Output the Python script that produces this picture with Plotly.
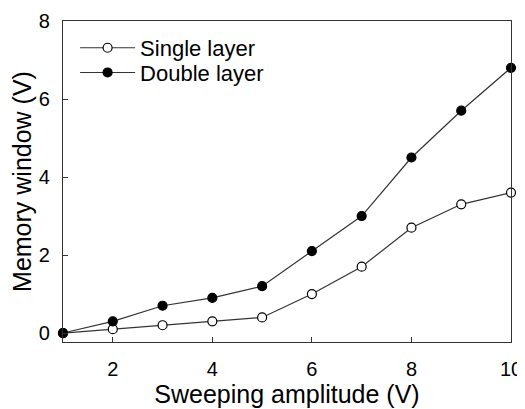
import plotly.graph_objects as go

amplitude = [1, 2, 3, 4, 5, 6, 7, 8, 9, 10]
single_layer = [0, 0.1, 0.2, 0.3, 0.4, 1.0, 1.7, 2.7, 3.3, 3.6]
double_layer = [0, 0.3, 0.7, 0.9, 1.2, 2.1, 3.0, 4.5, 5.7, 6.8]
x_ticks = [2, 4, 6, 8, 10]
y_ticks = [0, 2, 4, 6, 8]

font_family = "Liberation Sans, Arial, sans-serif"

fig = go.Figure()
fig.add_trace(go.Scatter(
    x=amplitude, y=single_layer, name="Single layer", mode="lines+markers",
    line=dict(color="#333333", width=1.2),
    marker=dict(symbol="circle", size=9, color="white", line=dict(color="black", width=1.2)),
    cliponaxis=False, legend="legend",
))
fig.add_trace(go.Scatter(
    x=amplitude, y=double_layer, name="Double layer", mode="lines+markers",
    line=dict(color="#333333", width=1.2),
    marker=dict(symbol="circle", size=9, color="black", line=dict(color="black", width=1.2)),
    cliponaxis=False, legend="legend2",
))

legend_style = dict(xanchor="left", yanchor="middle", bgcolor="rgba(0,0,0,0)",
                    font=dict(size=22), itemwidth=55)

fig.update_layout(
    width=517, height=401,
    margin=dict(l=55, r=14, t=13, b=67),
    paper_bgcolor="white", plot_bgcolor="white",
    font=dict(family=font_family, size=20, color="black"),
    showlegend=True,
    legend=dict(x=0.027, y=0.916, **legend_style),
    legend2=dict(x=0.027, y=0.839, **legend_style),
    xaxis=dict(
        range=[1, 10], tickvals=x_ticks, ticks="inside", ticklen=5,
        tickcolor="#333333", showline=True, linecolor="#333333", linewidth=1.2,
        mirror=True, showgrid=False, zeroline=False, automargin=False,
        ticklabelstandoff=9,
        title=dict(text="Sweeping amplitude (V)", font=dict(size=25), standoff=4),
        tickfont=dict(size=20),
    ),
    yaxis=dict(
        range=[-0.23, 8], tickvals=y_ticks, ticks="inside", ticklen=5,
        tickcolor="#333333", showline=True, linecolor="#333333", linewidth=1.2,
        mirror=True, showgrid=False, zeroline=False, automargin=False,
        ticklabelstandoff=8,
        title=dict(text="Memory window (V)", font=dict(size=25), standoff=9),
        tickfont=dict(size=20),
    ),
)

fig.write_html("out.html")
